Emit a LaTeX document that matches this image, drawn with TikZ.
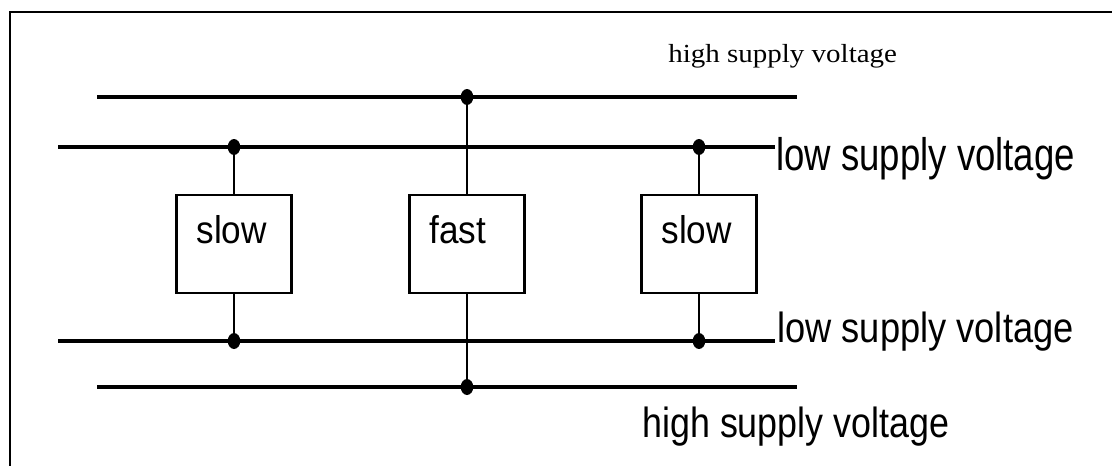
\documentclass[tikz,border=0pt]{standalone}
\usepackage{fontspec}
\setmainfont{Liberation Serif}
\setsansfont{Liberation Sans}
\usepackage{tikz}
\usetikzlibrary{shapes.geometric}

\newcommand{\narrowtxt}[2]{\scalebox{#1}[1]{#2}}

\begin{document}
\begin{tikzpicture}[x=0.02cm,y=-0.02cm,
	bus/.style={line width=2.2pt},
	wire/.style={line width=1.6pt},
	blk/.style={draw,line width=1.6pt,inner xsep=0.4cm,inner ysep=0pt,
		text width=1.5cm,align=left,text height=0.96cm,text depth=1.0cm,
		font=\sffamily\fontsize{22}{26}\selectfont},
	dot/.style={ellipse,fill=black,inner sep=0pt,minimum width=0.25cm,minimum height=0.32cm},
	lbl/.style={anchor=base west,inner sep=0pt}]
	\useasboundingbox (0,0) rectangle (1112,466);
	% frame
	\draw[line width=1.1pt] (10,466) -- (10,12) -- (1112,12);

	% blocks
	\node[blk] (s1) at (234,244) {\narrowtxt{0.91}{slow}};
	\node[blk] (f)  at (467,244) {\narrowtxt{0.91}{fast}};
	\node[blk] (s2) at (699,244) {\narrowtxt{0.91}{slow}};

	% rails
	\coordinate (ht0) at (97,97);   \coordinate (ht1) at (797,97);
	\coordinate (lt0) at (58,147);  \coordinate (lt1) at (775,147);
	\coordinate (lb0) at (58,341);  \coordinate (lb1) at (775,341);
	\coordinate (hb0) at (97,387);  \coordinate (hb1) at (797,387);
	\draw[bus] (ht0) -- (ht1);
	\draw[bus] (lt0) -- (lt1);
	\draw[bus] (lb0) -- (lb1);
	\draw[bus] (hb0) -- (hb1);

	% taps
	\node[dot] (a) at (s1.north |- lt0) {};
	\node[dot] (b) at (s2.north |- lt0) {};
	\node[dot] (c) at (f.north |- ht0) {};
	\node[dot] (d) at (s1.south |- lb0) {};
	\node[dot] (e) at (s2.south |- lb0) {};
	\node[dot] (g) at (f.south |- hb0) {};

	\draw[wire] (a) -- (s1.north);
	\draw[wire] (b) -- (s2.north);
	\draw[wire] (c) -- (f.north);
	\draw[wire] (s1.south) -- (d);
	\draw[wire] (s2.south) -- (e);
	\draw[wire] (f.south) -- (g);

	% labels
	\node[lbl,font=\fontsize{16.5}{19}\selectfont] (hv1) at (668,63) {\scalebox{1}[0.9]{high supply voltage}};
	\node[lbl,font=\sffamily\fontsize{26}{30}\selectfont] (lv1) at (776,171) {\narrowtxt{0.8}{low supply voltage}};
	\node[lbl,font=\sffamily\fontsize{24}{28}\selectfont] (lv2) at (777,342) {\narrowtxt{0.86}{low supply voltage}};
	\node[lbl,font=\sffamily\fontsize{24}{28}\selectfont] (hv2) at (642,437) {\narrowtxt{0.85}{high supply voltage}};
\end{tikzpicture}
\end{document}
